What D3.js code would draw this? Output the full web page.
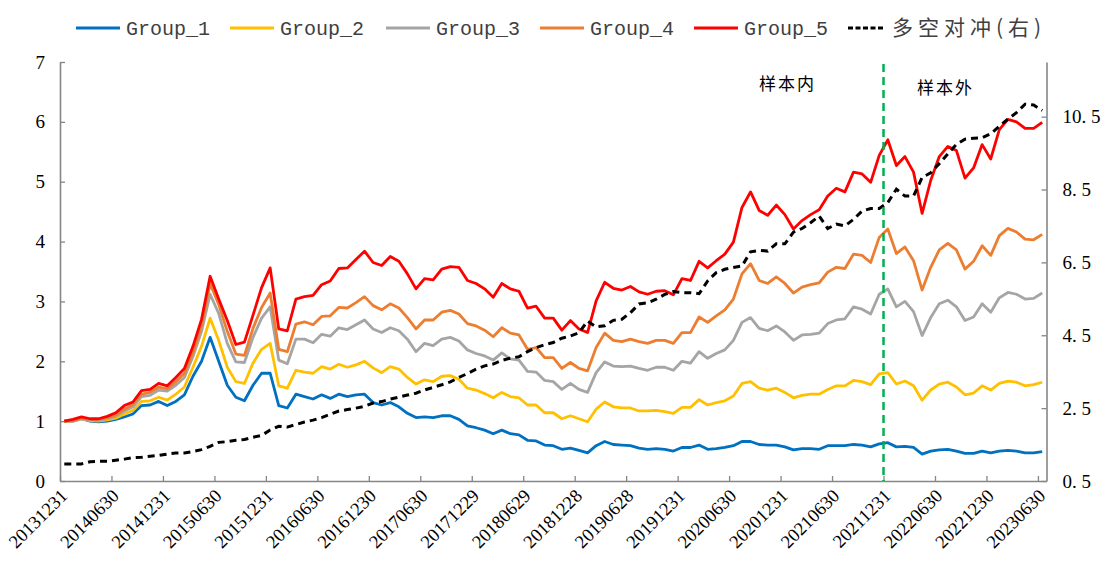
<!DOCTYPE html>
<html>
<head>
<meta charset="utf-8">
<script src="https://cdn.jsdelivr.net/npm/d3@7"></script>
<style>
  body { margin: 0; background: #fff; }
  svg { display: block; }
</style>
</head>
<body>
<svg id="chart" width="1110" height="576"></svg>
<script>
// month-end categories 20131231 .. 20230630 (115 months)
const months = d3.timeMonth.range(new Date(2013, 11, 1), new Date(2023, 6, 1));
const tickLabels = [
  "20131231", "20140630", "20141231", "20150630", "20151231", "20160630",
  "20161230", "20170630", "20171229", "20180629", "20181228", "20190628",
  "20191231", "20200630", "20201231", "20210630", "20211231", "20220630",
  "20221230", "20230630"
];
const splitLabel = "20211231";

const group1 = [
  1.0, 1.0, 1.04, 1.0, 0.99, 1.0, 1.03, 1.07, 1.12, 1.26, 1.27, 1.33, 1.26, 1.33, 1.44, 1.75, 2.0, 2.4, 2.0, 1.6, 1.4, 1.34, 1.6, 1.8, 1.8,
  1.26, 1.22, 1.45, 1.41, 1.37, 1.44, 1.38, 1.45, 1.41, 1.44, 1.45, 1.31, 1.27, 1.31, 1.24, 1.13, 1.06, 1.07, 1.06, 1.09, 1.09,
  1.03, 0.92, 0.89, 0.85, 0.79, 0.85, 0.79, 0.77, 0.68, 0.67, 0.6, 0.59, 0.53, 0.55, 0.51, 0.47, 0.59, 0.66, 0.61, 0.6, 0.59, 0.55,
  0.53, 0.54, 0.53, 0.5, 0.56, 0.56, 0.6, 0.53, 0.54, 0.56, 0.59, 0.66, 0.66, 0.61, 0.6, 0.6, 0.57, 0.52, 0.54, 0.54, 0.53, 0.59, 0.59,
  0.59, 0.61, 0.6, 0.57, 0.62, 0.64, 0.57, 0.58, 0.56, 0.45, 0.5, 0.52, 0.53, 0.5, 0.46, 0.46, 0.5, 0.47, 0.5, 0.51, 0.5, 0.47, 0.47, 0.49
];
const group2 = [
  1.0, 1.0, 1.04, 1.01, 1.0, 1.02, 1.05, 1.12, 1.18, 1.33, 1.34, 1.4, 1.35, 1.45, 1.57, 1.9, 2.25, 2.72, 2.35, 1.9, 1.66, 1.63, 1.97, 2.2, 2.3,
  1.59, 1.55, 1.85, 1.82, 1.8, 1.91, 1.87, 1.95, 1.9, 1.94, 2.0, 1.89, 1.81, 1.91, 1.87, 1.73, 1.62, 1.69, 1.66, 1.75, 1.76,
  1.7, 1.55, 1.52, 1.46, 1.39, 1.48, 1.41, 1.39, 1.27, 1.27, 1.14, 1.14, 1.04, 1.09, 1.04, 0.99, 1.2, 1.32, 1.24, 1.22, 1.22, 1.17,
  1.17, 1.18, 1.16, 1.13, 1.23, 1.23, 1.36, 1.27, 1.31, 1.34, 1.42, 1.63, 1.66, 1.55, 1.52, 1.55, 1.48, 1.39, 1.43, 1.45, 1.45, 1.53, 1.59,
  1.59, 1.68, 1.66, 1.61, 1.79, 1.81, 1.62, 1.67, 1.59, 1.35, 1.52, 1.62, 1.65, 1.57, 1.44, 1.47, 1.59, 1.52, 1.63, 1.67, 1.65, 1.59, 1.61, 1.65
];
const group3 = [
  1.0, 1.0, 1.04, 1.02, 1.01, 1.04, 1.08, 1.17, 1.24, 1.41, 1.43, 1.52, 1.5, 1.6, 1.73, 2.08, 2.5, 3.12, 2.8, 2.3, 1.99, 1.98, 2.4, 2.72, 2.91,
  2.02, 1.96, 2.37, 2.37, 2.31, 2.45, 2.42, 2.56, 2.53, 2.61, 2.69, 2.54, 2.48, 2.56, 2.51, 2.37, 2.16, 2.3, 2.26, 2.37, 2.4,
  2.34, 2.19, 2.13, 2.09, 2.02, 2.14, 2.04, 2.02, 1.83, 1.82, 1.68, 1.66, 1.53, 1.63, 1.53, 1.48, 1.81, 1.99, 1.92, 1.91, 1.92, 1.88,
  1.85, 1.9, 1.9, 1.85, 2.0, 1.97, 2.16, 2.05, 2.13, 2.19, 2.35, 2.65, 2.73, 2.55, 2.51, 2.59, 2.49, 2.35, 2.44, 2.45, 2.47, 2.63, 2.69,
  2.71, 2.91, 2.87, 2.79, 3.12, 3.21, 2.91, 3.0, 2.83, 2.43, 2.73, 2.96, 3.02, 2.91, 2.68, 2.74, 2.96, 2.82, 3.06, 3.15, 3.12, 3.04, 3.05, 3.14
];
const group4 = [
  1.0, 1.01, 1.05, 1.03, 1.03, 1.06, 1.1, 1.2, 1.28, 1.45, 1.48, 1.57, 1.54, 1.66, 1.8, 2.15, 2.6, 3.3, 2.95, 2.5, 2.12, 2.1, 2.55, 2.9, 3.14,
  2.2, 2.16, 2.62, 2.66, 2.61, 2.75, 2.76, 2.9, 2.89, 2.98, 3.08, 2.93, 2.86, 2.96, 2.89, 2.73, 2.54, 2.69, 2.69, 2.82, 2.85,
  2.79, 2.63, 2.59, 2.52, 2.41, 2.56, 2.47, 2.44, 2.2, 2.23, 2.06, 2.06, 1.88, 1.98, 1.88, 1.84, 2.23, 2.47, 2.35, 2.33, 2.37, 2.33,
  2.3, 2.35, 2.35, 2.3, 2.48, 2.48, 2.74, 2.65, 2.76, 2.86, 3.04, 3.46, 3.63, 3.35, 3.3, 3.41, 3.3, 3.14, 3.24, 3.28, 3.31, 3.49, 3.57,
  3.55, 3.79, 3.77, 3.65, 4.07, 4.21, 3.8, 3.91, 3.68, 3.19, 3.57, 3.86, 3.97, 3.86, 3.54, 3.67, 3.93, 3.77, 4.1, 4.22, 4.16, 4.04, 4.03, 4.12
];
const group5 = [
  1.0, 1.03, 1.07, 1.04, 1.04, 1.08, 1.14, 1.26, 1.32, 1.51, 1.53, 1.63, 1.59, 1.73, 1.88, 2.25, 2.7, 3.42, 3.04, 2.68, 2.28, 2.32, 2.77, 3.23, 3.56,
  2.54, 2.51, 3.04, 3.08, 3.1, 3.28, 3.34, 3.55, 3.56, 3.7, 3.84, 3.65, 3.6, 3.75, 3.67, 3.46, 3.21, 3.38, 3.36, 3.54, 3.58,
  3.57, 3.35, 3.3, 3.21, 3.07, 3.3, 3.21, 3.17, 2.89, 2.92, 2.72, 2.72, 2.52, 2.68, 2.54, 2.48, 3.01, 3.32, 3.22, 3.19, 3.25, 3.16,
  3.12, 3.17, 3.18, 3.11, 3.38, 3.35, 3.67, 3.56, 3.68, 3.79, 3.99, 4.57, 4.83, 4.52, 4.44, 4.61, 4.45, 4.21, 4.35, 4.45, 4.53, 4.76, 4.89,
  4.83, 5.16, 5.13, 4.99, 5.44, 5.7, 5.27, 5.42, 5.16, 4.47, 5.02, 5.42, 5.59, 5.52, 5.06, 5.23, 5.62, 5.38, 5.87, 6.04, 6.0, 5.89, 5.89, 5.99
];
// long-short hedge, right axis
const hedge = [
  0.97, 0.97, 0.97, 1.03, 1.04, 1.04, 1.07, 1.1, 1.14, 1.15, 1.18, 1.2, 1.24, 1.27, 1.27, 1.31, 1.36, 1.45, 1.56, 1.58, 1.62, 1.64, 1.7, 1.75, 1.9,
  2.0, 1.98, 2.05, 2.12, 2.17, 2.24, 2.33, 2.42, 2.46, 2.5, 2.55, 2.64, 2.68, 2.75, 2.8, 2.86, 2.91, 3.0, 3.07, 3.14, 3.22,
  3.34, 3.45, 3.57, 3.66, 3.71, 3.81, 3.87, 3.91, 4.05, 4.16, 4.24, 4.3, 4.42, 4.48, 4.57, 4.89, 4.73, 4.76, 4.91, 4.94, 5.12, 5.36,
  5.39, 5.49, 5.62, 5.7, 5.67, 5.67, 5.64, 5.99, 6.22, 6.31, 6.36, 6.4, 6.79, 6.83, 6.81, 7.01, 7.01, 7.33, 7.43, 7.59, 7.77, 7.43, 7.55,
  7.5, 7.68, 7.91, 7.98, 7.98, 8.14, 8.51, 8.32, 8.32, 8.83, 8.96, 9.21, 9.48, 9.74, 9.88, 9.91, 9.92, 10.03, 10.24, 10.43, 10.61, 10.84, 10.82, 10.67
];

const seriesNames = ["Group_1", "Group_2", "Group_3", "Group_4", "Group_5"];
const seriesColors = ["#0070C0", "#FFC000", "#A5A5A5", "#ED7D31", "#FF0000"];
const seriesValues = [group1, group2, group3, group4, group5];
const hedgeName = "多空对冲(右)";
const leftTicks = [0, 1, 2, 3, 4, 5, 6, 7];
const rightTicks = [0.5, 2.5, 4.5, 6.5, 8.5, 10.5];

const svg = d3.select("#chart");
const plotLeft = 60, plotRight = 1046.5, plotTop = 62, plotBottom = 481;
const n = months.length;

const x = d3.scaleLinear().domain([0, n]).range([plotLeft, plotRight]);
const px = (i) => x(i + 0.5);
const yL = d3.scaleLinear().domain([0, 7]).range([plotBottom, plotTop]);
const yR = d3.scaleLinear().domain([0.5, 12]).range([plotBottom, plotTop]);

const axisColor = "#868686";
const numFont = "'Liberation Serif', 'Times New Roman', serif";

function styleAxis(g) {
  g.select(".domain").attr("stroke", axisColor).attr("stroke-width", 1.6);
  g.selectAll(".tick line").attr("stroke", axisColor).attr("stroke-width", 1.3);
  g.selectAll(".tick text")
    .attr("fill", "#000")
    .style("font-family", numFont)
    .style("font-size", "19px");
}

// left axis
svg.append("g")
  .attr("transform", `translate(${plotLeft},0)`)
  .call(d3.axisLeft(yL).tickValues(leftTicks).tickSizeInner(-5).tickSizeOuter(0).tickPadding(15).tickFormat(d3.format("d")))
  .call(styleAxis);

// right axis
svg.append("g")
  .attr("transform", `translate(${plotRight},0)`)
  .call(d3.axisRight(yR).tickValues(rightTicks).tickSizeInner(-5).tickSizeOuter(0).tickPadding(16)
    .tickFormat((d) => d3.format(".1f")(d).replace(".", ". ")))
  .call(styleAxis);

// bottom axis
const xAxis = svg.append("g")
  .attr("transform", `translate(0,${plotBottom})`)
  .call(d3.axisBottom(x).tickValues(d3.range(0, n, 6)).tickSizeInner(-5).tickSizeOuter(0)
    .tickFormat((d) => tickLabels[d / 6]))
  .call(styleAxis);
xAxis.selectAll(".tick text")
  .attr("text-anchor", "end")
  .attr("y", 0)
  .attr("dy", 0)
  .attr("transform", "translate(8,16) rotate(-45)")
  .style("font-size", "18.5px");

// group lines
const line = (scale) => d3.line().x((d, i) => px(i)).y((d) => scale(d));
seriesValues.forEach((vals, k) => {
  svg.append("path")
    .datum(vals)
    .attr("fill", "none")
    .attr("stroke", seriesColors[k])
    .attr("stroke-width", 2.8)
    .attr("stroke-linejoin", "round")
    .attr("d", line(yL));
});

// hedge line
svg.append("path")
  .datum(hedge)
  .attr("fill", "none")
  .attr("stroke", "#000")
  .attr("stroke-width", 3)
  .attr("stroke-dasharray", "7,5")
  .attr("d", line(yR));

// in/out of sample split
const splitX = x(tickLabels.indexOf(splitLabel) * 6);
svg.append("line")
  .attr("x1", splitX).attr("x2", splitX)
  .attr("y1", plotTop + 2).attr("y2", plotBottom)
  .attr("stroke", "#00B050")
  .attr("stroke-width", 2.5)
  .attr("stroke-dasharray", "8,5");

const cjkFont = "'Noto Sans CJK SC', sans-serif";
svg.append("text")
  .attr("x", splitX - 96).attr("y", 90)
  .attr("text-anchor", "middle")
  .style("font-family", cjkFont).style("font-size", "17px").style("letter-spacing", "2px")
  .text("样本内");
svg.append("text")
  .attr("x", splitX + 62).attr("y", 94)
  .attr("text-anchor", "middle")
  .style("font-family", cjkFont).style("font-size", "17px").style("letter-spacing", "2px")
  .text("样本外");

// legend
const legendX = [76, 230, 386, 540, 694];
const legend = svg.append("g").attr("class", "legend");
seriesNames.forEach((name, k) => {
  const g = legend.append("g").attr("transform", `translate(${legendX[k]},28)`);
  g.append("line").attr("x1", 0).attr("x2", 44).attr("stroke", seriesColors[k]).attr("stroke-width", 3);
  g.append("text").attr("x", 50).attr("dy", "0.35em")
    .style("font-family", "'Liberation Mono', monospace").style("font-size", "20px").attr("fill", "#404040")
    .text(name);
});
const hg = legend.append("g").attr("transform", "translate(848,28)");
hg.append("line").attr("x1", 0).attr("x2", 36).attr("stroke", "#000").attr("stroke-width", 3).attr("stroke-dasharray", "5,2.5");
hg.append("text").attr("x", 44).attr("dy", "0.35em")
  .style("font-family", cjkFont).style("font-size", "21px").style("letter-spacing", "5px").attr("fill", "#404040")
  .text(hedgeName);
</script>
</body>
</html>
